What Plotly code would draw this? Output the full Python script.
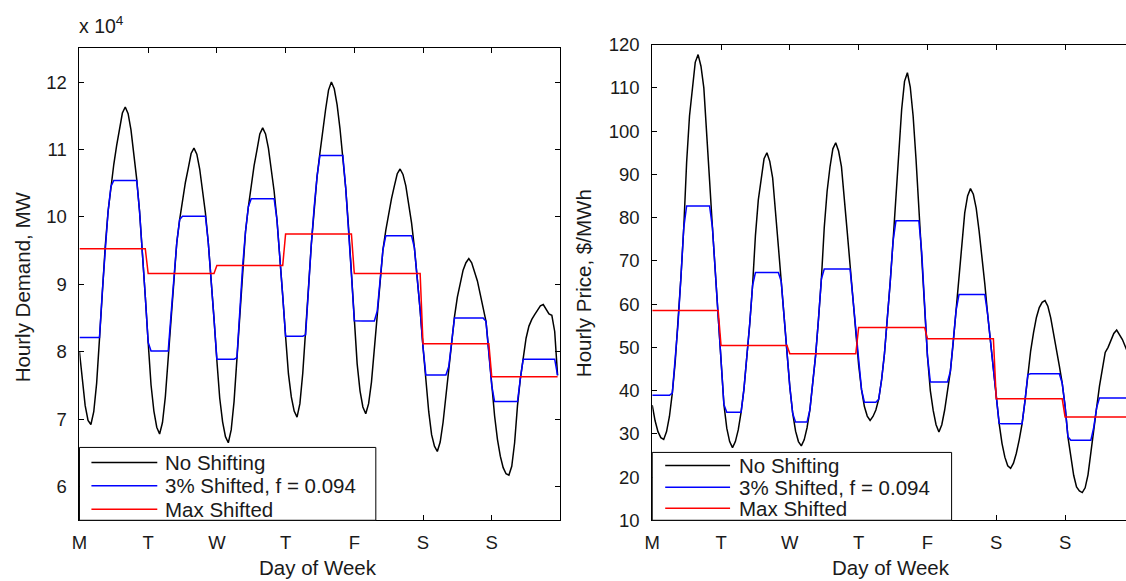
import plotly.graph_objects as go

# ---------------- DATA ----------------
day_labels = ["M", "T", "W", "T", "F", "S", "S"]
day_tick_hours = [0, 24, 48, 72, 96, 120, 144]

# Left panel: hourly demand, in units of 10^4 MW (as on the axis)
demand_mon = [8.00, 7.55, 7.20, 6.98, 6.92, 7.11, 7.53, 8.19, 8.90, 9.56, 10.08, 10.45,
              10.78, 11.06, 11.30, 11.54, 11.63, 11.53, 11.29, 10.95, 10.56, 10.08, 9.50, 8.82]
demand_tue = [8.14, 7.51, 7.12, 6.88, 6.78, 6.95, 7.33, 7.92, 8.56, 9.15, 9.62, 9.96,
              10.26, 10.51, 10.72, 10.94, 11.02, 10.93, 10.71, 10.41, 10.06, 9.62, 9.10, 8.49]
demand_wed = [7.87, 7.31, 6.96, 6.74, 6.65, 6.84, 7.26, 7.91, 8.61, 9.27, 9.78, 10.15,
              10.48, 10.76, 10.99, 11.23, 11.32, 11.23, 11.02, 10.72, 10.38, 9.95, 9.43, 8.83]
demand_thu = [8.23, 7.67, 7.33, 7.12, 7.03, 7.23, 7.68, 8.25, 8.95, 9.60, 10.15, 10.60,
              10.95, 11.30, 11.60, 11.88, 12.00, 11.90, 11.66, 11.31, 10.92, 10.43, 9.84, 9.15]
demand_fri = [8.46, 7.82, 7.42, 7.18, 7.08, 7.23, 7.55, 8.06, 8.60, 9.11, 9.51, 9.80,
              10.06, 10.27, 10.46, 10.64, 10.71, 10.63, 10.46, 10.21, 9.91, 9.54, 9.12, 8.62]
demand_sat = [8.07, 7.57, 7.11, 6.77, 6.60, 6.52, 6.66, 6.95, 7.35, 7.78, 8.18, 8.52,
              8.81, 9.04, 9.21, 9.32, 9.38, 9.32, 9.19, 9.05, 8.85, 8.65, 8.45, 8.00]
demand_sun = [7.50, 7.05, 6.70, 6.45, 6.28, 6.19, 6.17, 6.30, 6.65, 7.20, 7.60, 7.90,
              8.20, 8.38, 8.48, 8.55, 8.62, 8.68, 8.70, 8.62, 8.56, 8.54, 8.30, 7.65]

# 3% shifted: daily valley-fill level and peak-clip level (10^4 MW)
demand_shift_floor = [8.21, 8.01, 7.89, 8.23, 8.455, 7.655, 7.26]
demand_shift_cap = [10.54, 10.01, 10.27, 10.91, 9.72, 8.50, 7.89]
# Max shifted: flat daily level (10^4 MW)
demand_max_level = [9.526, 9.16, 9.28, 9.745, 9.16, 8.12, 7.63]

# Right panel: hourly price, $/MWh
price_mon = [36.6, 33.0, 30.5, 29.1, 28.7, 30.5, 34.0, 39.4, 46.5, 55.4, 66.1, 77.7,
             92.8, 103.5, 110.6, 115.9, 117.7, 115.0, 110.0, 100.4, 88.6, 77.7, 66.8, 56.8]
price_tue = [45.0, 36.8, 31.3, 28.2, 26.8, 28.2, 30.9, 35.0, 40.4, 47.3, 55.4, 64.3,
             75.9, 84.1, 89.5, 93.6, 95.0, 93.0, 89.2, 82.1, 73.3, 65.2, 57.0, 49.6]
price_wed = [40.8, 34.7, 30.6, 28.2, 27.2, 28.6, 31.4, 35.6, 41.2, 48.2, 56.6, 65.8,
             77.7, 86.1, 91.7, 95.9, 97.3, 95.4, 91.8, 85.1, 76.8, 69.1, 61.3, 54.3]
price_thu = [45.9, 40.2, 36.3, 34.1, 33.1, 34.0, 35.5, 38.0, 42.5, 48.5, 56.0, 65.0,
             74.5, 84.0, 95.0, 105.0, 111.5, 113.5, 110.2, 103.5, 93.6, 82.8, 72.0, 61.1]
price_fri = [48.0, 40.0, 35.4, 32.1, 30.4, 32.1, 35.5, 40.0, 44.5, 51.2, 58.6, 66.4,
             74.3, 81.1, 85.0, 86.7, 85.4, 82.2, 77.0, 71.2, 64.7, 57.6, 51.1, 44.6]
price_sat = [38.2, 32.4, 27.8, 24.6, 22.6, 22.0, 23.2, 25.5, 28.6, 32.3, 37.5, 43.7,
             49.2, 53.4, 56.9, 59.2, 60.4, 60.8, 59.5, 56.8, 53.3, 49.3, 45.7, 41.7]
price_sun = [36.4, 29.3, 24.4, 20.4, 17.7, 16.8, 16.4, 17.5, 20.5, 26.0, 31.5, 36.0,
             41.0, 45.5, 48.8, 50.0, 51.5, 53.2, 54.0, 53.0, 51.8, 50.2, 48.5, 47.0]

price_shift_floor = [38.9, 35.0, 32.7, 37.3, 42.0, 32.3, 28.5]
price_shift_cap = [82.7, 67.3, 68.1, 79.25, 62.2, 43.9, 38.3]
price_max_level = [58.5, 50.4, 48.5, 54.6, 52.0, 38.1, 33.9]

series_names = ["No Shifting", "3% Shifted, f = 0.094", "Max Shifted"]
series_colors = ["#000000", "#0000FF", "#FF0000"]

# ---------------- BUILD SERIES ----------------
demand = demand_mon + demand_tue + demand_wed + demand_thu + demand_fri + demand_sat + demand_sun
price = price_mon + price_tue + price_wed + price_thu + price_fri + price_sat + price_sun
hours = list(range(len(demand)))


def shifted(series, floors, caps):
    return [min(max(v, floors[h // 24]), caps[h // 24]) for h, v in enumerate(series)]


def flat(levels, n):
    return [levels[h // 24] for h in range(n)]


demand_3pct = shifted(demand, demand_shift_floor, demand_shift_cap)
demand_max = flat(demand_max_level, len(demand))
price_3pct = shifted(price, price_shift_floor, price_shift_cap)
price_max = flat(price_max_level, len(price))

# ---------------- FIGURE ----------------
W, H = 1126, 581
FONT = "Liberation Sans, Arial, Helvetica, sans-serif"
TXT = "#1a1a1a"

# Layout positions are given in target window pixels; the page shows the
# figure slightly offset/compressed, so map window px -> figure paper coords.
SX, OX = 0.995, 6.4
SY, OY = 0.966, 9.6


def px(x):
    return ((x - OX) / SX) / W


def py(y):
    return 1 - ((y - OY) / SY) / H


HOUR_PX = 2.873
right_edge_px = W * SX + OX
right_hours = (right_edge_px - 652) / HOUR_PX

fig = go.Figure()
for ys, name, col in zip([demand, demand_3pct, demand_max], series_names, series_colors):
    fig.add_trace(go.Scatter(x=hours, y=ys, name=name, mode="lines", showlegend=False,
                             line=dict(color=col, width=1.5), xaxis="x", yaxis="y"))
for ys, name, col in zip([price, price_3pct, price_max], series_names, series_colors):
    fig.add_trace(go.Scatter(x=hours, y=ys, name=name, mode="lines", showlegend=False,
                             line=dict(color=col, width=1.5), xaxis="x2", yaxis="y2"))

axis_common = dict(showgrid=False, zeroline=False, showline=True, linecolor="black",
                   linewidth=1, ticks="inside", ticklen=5, tickcolor="black",
                   tickfont=dict(family=FONT, size=18.5, color=TXT))

# Legend boxes (lower-left corner of each panel, as in the original)
legend_specs = [
    dict(bx0=78, bx1=375, by0=447, lx0=90, lx1=156, tx=162, rows=[462, 485.5, 509]),
    dict(bx0=652, bx1=952, by0=452, lx0=665, lx1=730, tx=737, rows=[465, 487, 508]),
]
shapes = []
annotations = []
for spec in legend_specs:
    shapes.append(dict(type="rect", xref="paper", yref="paper", layer="above",
                       x0=px(spec["bx0"]), x1=px(spec["bx1"]), y0=py(520), y1=py(spec["by0"]),
                       line=dict(color="black", width=1), fillcolor="white"))
    for ry, name, col in zip(spec["rows"], series_names, series_colors):
        shapes.append(dict(type="line", xref="paper", yref="paper", layer="above",
                           x0=px(spec["lx0"]), x1=px(spec["lx1"]), y0=py(ry), y1=py(ry),
                           line=dict(color=col, width=1.5)))
        annotations.append(dict(text=name, x=px(spec["tx"]), y=py(ry), xref="paper",
                                yref="paper", xanchor="left", yanchor="middle",
                                showarrow=False,
                                font=dict(family=FONT, size=20.5, color=TXT)))

annotations += [
    dict(text="x 10<sup>4</sup>", x=px(76), y=py(38), xref="paper", yref="paper",
         xanchor="left", yanchor="bottom", showarrow=False,
         font=dict(family=FONT, size=19.5, color=TXT)),
    dict(text="Day of Week", x=px(317), y=py(567), xref="paper", yref="paper",
         xanchor="center", yanchor="middle", showarrow=False,
         font=dict(family=FONT, size=20.5, color=TXT)),
    dict(text="Day of Week", x=px(891), y=py(567), xref="paper", yref="paper",
         xanchor="center", yanchor="middle", showarrow=False,
         font=dict(family=FONT, size=20.5, color=TXT)),
    dict(text="Hourly Demand, MW", x=px(21), y=py(286), xref="paper", yref="paper",
         xanchor="center", yanchor="middle", showarrow=False, textangle=-90,
         font=dict(family=FONT, size=20.5, color=TXT)),
    dict(text="Hourly Price, $/MWh", x=px(583), y=py(282), xref="paper", yref="paper",
         xanchor="center", yanchor="middle", showarrow=False, textangle=-90,
         font=dict(family=FONT, size=20.5, color=TXT)),
]

fig.update_layout(
    width=W, height=H, autosize=False,
    margin=dict(l=0, r=0, t=0, b=0),
    paper_bgcolor="white", plot_bgcolor="white",
    font=dict(family=FONT, color=TXT),
    showlegend=False,
    xaxis=dict(domain=[px(78), px(560)], range=[0, 168], anchor="y",
               tickvals=day_tick_hours, ticktext=day_labels, mirror="ticks",
               ticklabelstandoff=6, **axis_common),
    yaxis=dict(domain=[py(520), py(47)], range=[5.5, 12.5], anchor="x",
               tickvals=[6, 7, 8, 9, 10, 11, 12], mirror="ticks",
               ticklabelstandoff=8, **axis_common),
    xaxis2=dict(domain=[px(652), 1.0], range=[0, right_hours], anchor="y2",
                tickvals=day_tick_hours, ticktext=day_labels, mirror="ticks",
                ticklabelstandoff=6, **axis_common),
    yaxis2=dict(domain=[py(520), py(43.3)], range=[10, 120], anchor="x2",
                tickvals=list(range(10, 121, 10)), mirror=False,
                ticklabelstandoff=8, **axis_common),
    shapes=shapes,
    annotations=annotations,
)

fig.write_html("out.html")
